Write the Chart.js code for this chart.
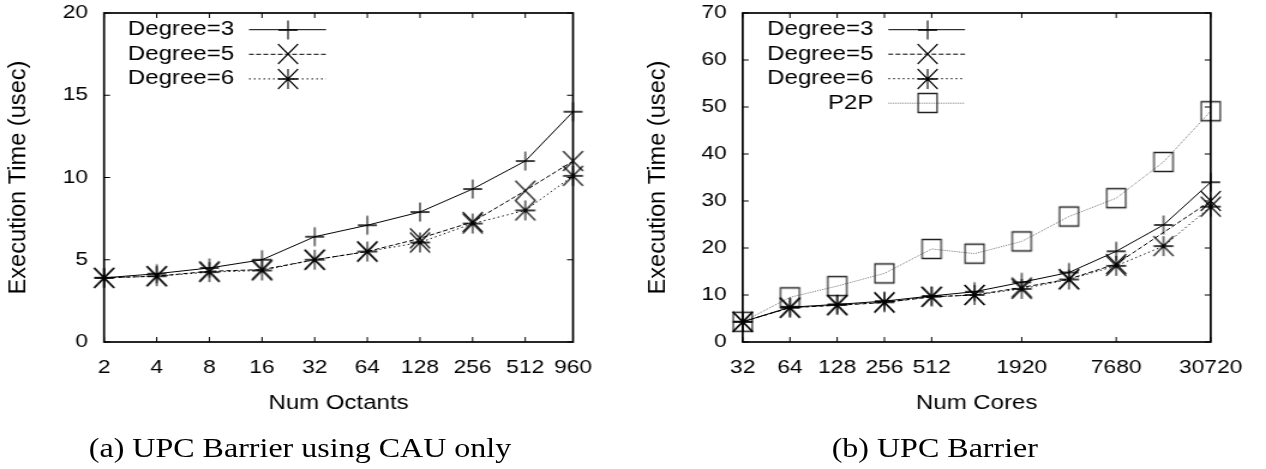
<!DOCTYPE html>
<html><head><meta charset="utf-8">
<script src="https://cdn.jsdelivr.net/npm/chart.js@4"></script>
<style>
html,body{margin:0;padding:0;background:#fff;overflow:hidden;width:1266px;height:469px;}
#fig{position:absolute;left:0;top:0;width:1055px;height:469px;transform:scaleX(1.2);transform-origin:0 0;}
#cA{position:absolute;left:0;top:0;}
#cB{position:absolute;left:517px;top:0;}
.cap{position:absolute;top:434px;font-family:"Liberation Serif","Times New Roman",serif;font-size:28px;line-height:28px;white-space:nowrap;color:#000;transform:translateX(-50%) scaleX(0.953);}
</style></head><body>
<div id="fig">
<canvas id="cA" width="517" height="469"></canvas>
<canvas id="cB" width="538" height="469"></canvas>
<div class="cap" style="left:250px">(a) UPC Barrier using CAU only</div>
<div class="cap" style="left:779px">(b) UPC Barrier</div>
</div>
<script>
// ---- data ----
const octants = [2, 4, 8, 16, 32, 64, 128, 256, 512, 960];
const cauDeg3 = [3.9, 4.15, 4.5, 5.0, 6.4, 7.1, 7.9, 9.3, 11.0, 14.0];
const cauDeg5 = [3.9, 4.0, 4.3, 4.4, 5.0, 5.5, 6.3, 7.3, 9.2, 11.0];
const cauDeg6 = [3.9, 4.0, 4.25, 4.35, 5.0, 5.5, 6.05, 7.2, 8.0, 10.1];

const cores = [32, 64, 128, 256, 512, 960, 1920, 3840, 7680, 15360, 30720];
const upcDeg3 = [4.3, 7.4, 8.0, 8.7, 9.8, 10.7, 12.7, 14.8, 19.3, 24.9, 34.0];
const upcDeg5 = [4.3, 7.3, 7.8, 8.4, 9.6, 10.0, 11.6, 13.4, 16.6, null, 30.0];
const upcDeg6 = [4.3, 7.3, 7.9, 8.45, 9.65, 10.0, 11.3, 13.3, 16.2, 20.4, 28.8];
const upcP2P  = [4.3, 9.5, 11.9, 14.6, 19.8, 18.8, 21.4, 26.7, 30.6, 38.3, 49.1];

const octantTicks = [2, 4, 8, 16, 32, 64, 128, 256, 512, 960];
const coreTicks = [32, 64, 128, 256, 512, 1920, 7680, 30720];
const cauYTicks = [0, 5, 10, 15, 20];
const upcYTicks = [0, 10, 20, 30, 40, 50, 60, 70];
const seriesNames = ['Degree=3', 'Degree=5', 'Degree=6', 'P2P'];
const xTitleA = 'Num Octants';
const xTitleB = 'Num Cores';
const yTitle = 'Execution Time (usec)';

// ---- styling ----
const S = 1.2;
const FONT = '"Liberation Sans", Arial, Helvetica, sans-serif';

function marker(kind, r, lw, color) {
  const w = 2 * Math.ceil(r / S + lw + 1), h = 2 * Math.ceil(r + lw + 1);
  const c = document.createElement('canvas'); c.width = w; c.height = h;
  const g = c.getContext('2d');
  g.setTransform(1 / S, 0, 0, 1, w / 2, h / 2);
  g.strokeStyle = color; g.lineWidth = lw;
  g.beginPath();
  if (kind === 'plus' || kind === 'star') { g.moveTo(-r, 0); g.lineTo(r, 0); g.moveTo(0, -r); g.lineTo(0, r); }
  if (kind === 'x' || kind === 'star') { g.moveTo(-r, -r); g.lineTo(r, r); g.moveTo(-r, r); g.lineTo(r, -r); }
  if (kind === 'box') { g.rect(-r, -r, 2 * r, 2 * r); }
  g.stroke();
  return c;
}

const styles = [
  { color: '#000', dash: [], marker: marker('plus', 9.5, 1.3, '#000') },
  { color: '#000', dash: [4, 2], marker: marker('x', 10, 1.3, '#000') },
  { color: '#111', dash: [1.5, 2.5], marker: marker('star', 10, 1.3, '#000') },
  { color: '#777', dash: [1, 1], marker: marker('box', 9.5, 1.4, '#222') }
];

function ds(i, xs, ys) {
  return {
    label: seriesNames[i],
    data: xs.map((x, k) => ({ x: x, y: ys[k] })),
    borderColor: styles[i].color, borderWidth: 1, borderDash: styles[i].dash,
    pointStyle: styles[i].marker, pointRadius: 10, pointHoverRadius: 10,
    fill: false, tension: 0, clip: false, spanGaps: true
  };
}

const framePlugin = {
  id: 'frame',
  afterDraw(chart, args, o) {
    const { ctx, chartArea: a } = chart;
    const xs = chart.scales.x, ys = chart.scales.y;
    ctx.save();
    ctx.strokeStyle = '#000';
    ctx.lineWidth = 1;
    ctx.beginPath();
    xs.ticks.forEach(t => {
      const p = xs.getPixelForValue(t.value);
      ctx.moveTo(p, a.bottom); ctx.lineTo(p, a.bottom - 5);
      ctx.moveTo(p, a.top); ctx.lineTo(p, a.top + 5);
    });
    ys.ticks.forEach(t => {
      const p = ys.getPixelForValue(t.value);
      ctx.moveTo(a.left, p); ctx.lineTo(a.left + 5, p);
      ctx.moveTo(a.right, p); ctx.lineTo(a.right - 5, p);
    });
    ctx.stroke();
    ctx.lineWidth = 1.7;
    ctx.strokeRect(a.left, a.top, a.right - a.left, a.bottom - a.top);
    // rotated y-axis title, drawn undistorted
    ctx.translate(o.yTitleX, (a.top + a.bottom) / 2);
    ctx.scale(1 / S, 1);
    ctx.rotate(-Math.PI / 2);
    ctx.font = '23.6px ' + FONT;
    ctx.fillStyle = '#000';
    ctx.textAlign = 'center'; ctx.textBaseline = 'middle';
    ctx.fillText(o.text, 0, 0);
    ctx.restore();
  }
};

const legendPlugin = {
  id: 'gpLegend',
  afterDraw(chart, args, o) {
    const ctx = chart.ctx;
    ctx.save();
    ctx.font = '20px ' + FONT;
    ctx.textAlign = 'right'; ctx.textBaseline = 'middle'; ctx.fillStyle = '#000';
    chart.data.datasets.forEach((d, i) => {
      const y = o.rowY0 + i * o.rowStep;
      ctx.fillText(d.label, o.textRight, y);
      ctx.beginPath();
      ctx.setLineDash(d.borderDash); ctx.strokeStyle = d.borderColor; ctx.lineWidth = 1;
      ctx.moveTo(o.lineX0, y); ctx.lineTo(o.lineX1, y); ctx.stroke();
      ctx.setLineDash([]);
      const m = d.pointStyle;
      ctx.drawImage(m, Math.round(o.markX - m.width / 2), Math.round(y - m.height / 2));
    });
    ctx.restore();
  }
};

function makeChart(canvas, datasets, cfg) {
  return new Chart(canvas, {
    type: 'line',
    data: { datasets: datasets },
    options: {
      responsive: false, animation: false, events: [],
      layout: { padding: { left: 0, top: 13, right: cfg.padRight, bottom: 0 } },
      plugins: { legend: { display: false }, tooltip: { enabled: false }, gpLegend: cfg.legend,
                 frame: { yTitleX: cfg.yTitleX, text: yTitle } },
      scales: {
        x: {
          type: 'logarithmic', position: 'bottom', bounds: 'data',
          min: cfg.xTicks[0], max: cfg.xTicks[cfg.xTicks.length - 1],
          afterBuildTicks: a => { a.ticks = cfg.xTicks.map(v => ({ value: v })); },
          afterFit: a => { a.height = 127; a.paddingLeft = 0; a.paddingRight = 0; },
          grid: { display: false, drawTicks: false }, border: { display: false },
          ticks: { autoSkip: false, maxRotation: 0, minRotation: 0, padding: 14, color: '#000',
                   font: { family: FONT, size: 19 }, callback: v => String(v) },
          title: { display: true, text: cfg.xTitle, color: '#000', font: { family: FONT, size: 20 },
                   padding: { top: 0, bottom: 53.5 } }
        },
        y: {
          type: 'linear', position: 'left',
          min: cfg.yTicks[0], max: cfg.yTicks[cfg.yTicks.length - 1],
          afterBuildTicks: a => { a.ticks = cfg.yTicks.map(v => ({ value: v })); },
          afterFit: a => { a.width = cfg.yWidth; a.paddingTop = 0; a.paddingBottom = 0; },
          grid: { display: false, drawTicks: false }, border: { display: false },
          ticks: { padding: 13.3, color: '#000', font: { family: FONT, size: 19 }, callback: v => String(v) },
          title: { display: false }
        }
      }
    },
    plugins: [framePlugin, legendPlugin]
  });
}

makeChart(document.getElementById('cA'),
  [ds(0, octants, cauDeg3), ds(1, octants, cauDeg5), ds(2, octants, cauDeg6)],
  { padRight: 39.5, xTicks: octantTicks, yTicks: cauYTicks, xTitle: xTitleA, yWidth: 86.7, yTitleX: 15.4,
    legend: { rowY0: 29.7, rowStep: 24.6, textRight: 195, lineX0: 207.5, lineX1: 271.7, markX: 239.6 } });

makeChart(document.getElementById('cB'),
  [ds(0, cores, upcDeg3), ds(1, cores, upcDeg5), ds(2, cores, upcDeg6), ds(3, cores, upcP2P)],
  { padRight: 46.1, xTicks: coreTicks, yTicks: upcYTicks, xTitle: xTitleB, yWidth: 101.9, yTitleX: 31.5,
    legend: { rowY0: 29.7, rowStep: 24.5, textRight: 210.75, lineX0: 223.25, lineX1: 287.2, markX: 256.1 } });
</script>
</body></html>
